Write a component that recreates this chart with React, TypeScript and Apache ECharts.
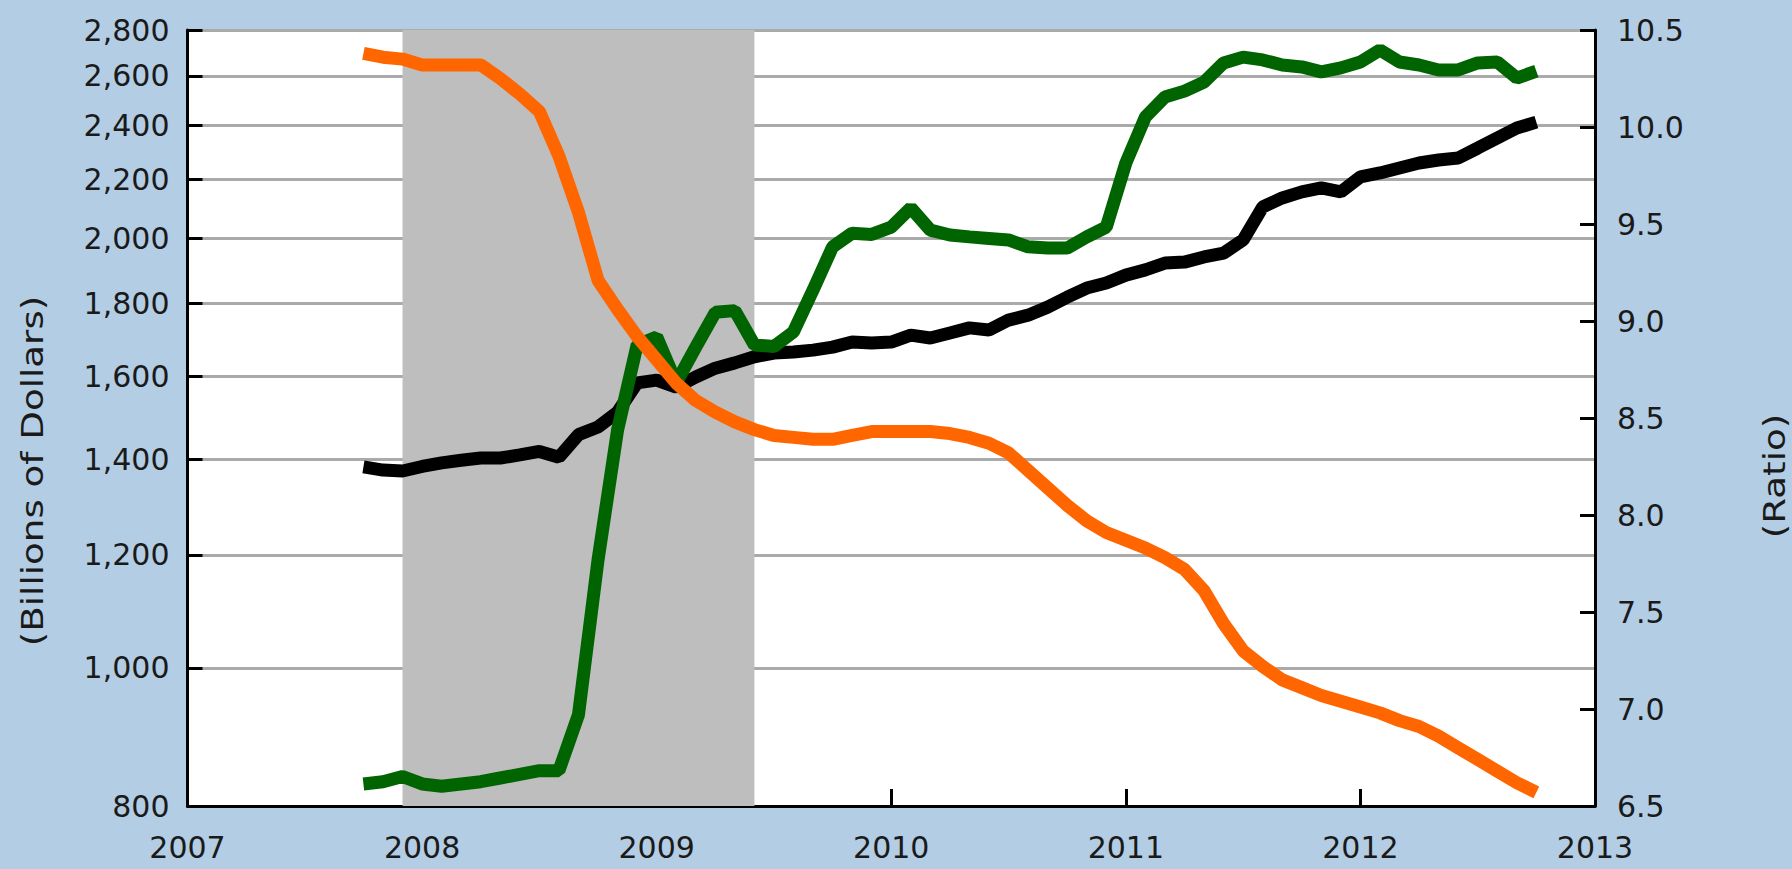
import React, { useEffect, useRef } from "react";
import * as echarts from "echarts";

// ---------- data ----------
const months: string[] = [
  "2007-10", "2007-11", "2007-12",
  "2008-01", "2008-02", "2008-03", "2008-04", "2008-05", "2008-06", "2008-07", "2008-08", "2008-09", "2008-10", "2008-11", "2008-12",
  "2009-01", "2009-02", "2009-03", "2009-04", "2009-05", "2009-06", "2009-07", "2009-08", "2009-09", "2009-10", "2009-11", "2009-12",
  "2010-01", "2010-02", "2010-03", "2010-04", "2010-05", "2010-06", "2010-07", "2010-08", "2010-09", "2010-10", "2010-11", "2010-12",
  "2011-01", "2011-02", "2011-03", "2011-04", "2011-05", "2011-06", "2011-07", "2011-08", "2011-09", "2011-10", "2011-11", "2011-12",
  "2012-01", "2012-02", "2012-03", "2012-04", "2012-05", "2012-06", "2012-07", "2012-08", "2012-09", "2012-10",
];

// Billions of Dollars (left, log scale)
const blackSeries: number[] = [
  1383, 1376, 1374,
  1384, 1392, 1398, 1403, 1403, 1410, 1418, 1405, 1457, 1475, 1511, 1584,
  1591, 1573, 1599, 1622, 1636, 1652, 1662, 1665, 1670, 1678, 1692, 1689,
  1692, 1711, 1703, 1717, 1731, 1725, 1753, 1767, 1790, 1819, 1846, 1861,
  1885, 1901, 1922, 1925, 1941, 1953, 1995, 2104, 2135, 2156, 2170, 2156,
  2209, 2223, 2241, 2259, 2270, 2277, 2314, 2352, 2390, 2413,
];

// Billions of Dollars (left, log scale)
const greenSeries: number[] = [
  829, 832, 839,
  829, 826, 829, 832, 837, 842, 847, 847, 927, 1190, 1468, 1684,
  1706, 1584, 1678, 1775, 1780, 1684, 1680, 1720, 1840, 1973, 2017, 2013,
  2037, 2101, 2027, 2011, 2005, 2000, 1995, 1973, 1969, 1969, 2005, 2037,
  2259, 2433, 2513, 2537, 2574, 2655, 2680, 2668, 2646, 2638, 2617, 2634,
  2659, 2711, 2659, 2646, 2625, 2625, 2655, 2659, 2591, 2620,
];

// Ratio (right axis)
const orangeSeries: number[] = [
  10.38, 10.36, 10.35,
  10.32, 10.32, 10.32, 10.32, 10.25, 10.17, 10.08, 9.85, 9.56, 9.21, 9.06, 8.92,
  8.80, 8.68, 8.59, 8.53, 8.48, 8.44, 8.41, 8.40, 8.39, 8.39, 8.41, 8.43,
  8.43, 8.43, 8.43, 8.42, 8.40, 8.37, 8.32, 8.23, 8.14, 8.05, 7.97, 7.91,
  7.87, 7.83, 7.78, 7.72, 7.61, 7.44, 7.30, 7.22, 7.15, 7.11, 7.07, 7.04,
  7.01, 6.98, 6.94, 6.91, 6.86, 6.80, 6.74, 6.68, 6.62, 6.57,
];

const recession: [string, string] = ["2007-12", "2009-06"];

const leftTicks: number[] = [800, 1000, 1200, 1400, 1600, 1800, 2000, 2200, 2400, 2600, 2800];
const rightMin = 6.5;
const rightMax = 10.5;
const rightStep = 0.5;
const xMin = 2007;
const xMax = 2013;

const leftTitle = "(Billions of Dollars)";
const rightTitle = "(Ratio)";

// ---------- helpers ----------
const toYear = (m: string): number => {
  const [y, mo] = m.split("-").map(Number);
  return y + (mo - 1) / 12;
};

const FONT = "DejaVu Sans";
const TEXT = "#1a1a1a";
const LINE_W = 13;

export default function App() {
  const ref = useRef<HTMLDivElement>(null);

  useEffect(() => {
    document.body.style.margin = "0";
    if (!ref.current) return;
    const chart = echarts.init(ref.current, null, { renderer: "svg" });

    const axisLine = { show: true, onZero: false, lineStyle: { color: "#000", width: 3 } };
    const tickStyle = { color: "#000", width: 3 };

    const option: any = {
      animation: false,
      backgroundColor: "#b3cde4",
      textStyle: { fontFamily: FONT },
      grid: {
        left: 187.5,
        right: 197,
        top: 30,
        bottom: 63,
        show: true,
        backgroundColor: "#ffffff",
        borderWidth: 0,
      },
      xAxis: {
        type: "value",
        min: xMin,
        max: xMax,
        interval: 1,
        axisLine,
        axisTick: { show: true, inside: true, length: 17, lineStyle: tickStyle },
        axisLabel: {
          fontSize: 30,
          fontFamily: FONT,
          color: TEXT,
          margin: 26,
          showMinLabel: true,
          showMaxLabel: true,
          formatter: (v: number) => String(v),
        },
        splitLine: { show: false },
      },
      yAxis: [
        {
          type: "log",
          min: leftTicks[0],
          max: leftTicks[leftTicks.length - 1],
          position: "left",
          axisLine,
          axisTick: { show: true, inside: true, length: 15, customValues: leftTicks, lineStyle: tickStyle },
          axisLabel: {
            customValues: leftTicks,
            fontSize: 30,
            fontFamily: FONT,
            color: TEXT,
            margin: 18,
            formatter: (v: number) => Math.round(v).toLocaleString("en-US"),
          },
          splitLine: { show: true, lineStyle: { color: "#aaaaaa", width: 3 } },
        },
        {
          type: "value",
          min: rightMin,
          max: rightMax,
          interval: rightStep,
          position: "right",
          axisLine,
          axisTick: { show: true, inside: true, length: 15, lineStyle: tickStyle },
          axisLabel: {
            fontSize: 30,
            fontFamily: FONT,
            color: TEXT,
            margin: 22,
            formatter: (v: number) => v.toFixed(1),
          },
          splitLine: { show: false },
        },
      ],
      graphic: [
        {
          type: "text",
          x: 33,
          y: 471,
          rotation: Math.PI / 2,
          scaleX: 1.24,
          style: {
            text: leftTitle,
            font: `30px "${FONT}"`,
            fill: TEXT,
            align: "center",
            verticalAlign: "middle",
          },
        },
        {
          type: "text",
          x: 1775,
          y: 476,
          rotation: Math.PI / 2,
          scaleX: 1.24,
          style: {
            text: rightTitle,
            font: `30px "${FONT}"`,
            fill: TEXT,
            align: "center",
            verticalAlign: "middle",
          },
        },
      ],
      series: [
        {
          name: "Black",
          type: "line",
          yAxisIndex: 0,
          symbol: "none",
          showSymbol: false,
          data: months.map((m, i) => [toYear(m), blackSeries[i]]),
          lineStyle: { color: "#000000", width: LINE_W },
          markArea: {
            silent: true,
            itemStyle: { color: "#bebebe" },
            label: { show: false },
            data: [[{ xAxis: toYear(recession[0]) }, { xAxis: toYear(recession[1]) }]],
          },
        },
        {
          name: "Green",
          type: "line",
          yAxisIndex: 0,
          symbol: "none",
          showSymbol: false,
          data: months.map((m, i) => [toYear(m), greenSeries[i]]),
          lineStyle: { color: "#006400", width: LINE_W },
        },
        {
          name: "Orange",
          type: "line",
          yAxisIndex: 1,
          symbol: "none",
          showSymbol: false,
          data: months.map((m, i) => [toYear(m), orangeSeries[i]]),
          lineStyle: { color: "#ff6600", width: LINE_W },
        },
      ],
    };

    chart.setOption(option);
    return () => chart.dispose();
  }, []);

  return <div ref={ref} style={{ width: "1792px", height: "869px" }} />;
}
